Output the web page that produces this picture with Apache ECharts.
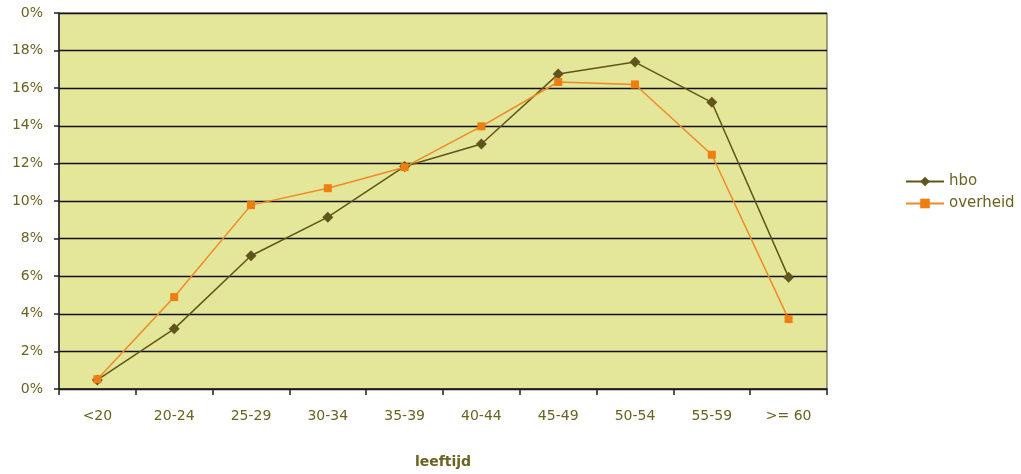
<!DOCTYPE html>
<html>
<head>
<meta charset="utf-8">
<script src="https://cdn.jsdelivr.net/npm/echarts@6/dist/echarts.min.js"></script>
<style>
html, body { margin: 0; padding: 0; background: #ffffff; }
#chart { width: 1021px; height: 474px; }
</style>
</head>
<body>
<div id="chart"></div>
<script>
// Leeftijdsopbouw (in % van het personeel) per leeftijdsklasse
const categories = ['<20', '20-24', '25-29', '30-34', '35-39', '40-44', '45-49', '50-54', '55-59', '>= 60'];
const hbo = [0.48, 3.2, 7.09, 9.14, 11.84, 13.03, 16.75, 17.39, 15.25, 5.94];
const overheid = [0.52, 4.89, 9.78, 10.68, 11.8, 13.97, 16.33, 16.2, 12.46, 3.72];
const yTickLabels = ['0%', '2%', '4%', '6%', '8%', '10%', '12%', '14%', '16%', '18%', '0%'];

const textColor = '#6b6321';
const font = '"DejaVu Sans", sans-serif';

const chart = echarts.init(document.getElementById('chart'), null, { renderer: 'canvas' });
chart.setOption({
  animation: false,
  backgroundColor: '#ffffff',
  grid: {
    left: 59, right: 194, top: 13, bottom: 85,
    show: true,
    backgroundColor: '#e4e69a',
    borderColor: '#4a4a3a',
    borderWidth: 1
  },
  legend: {
    orient: 'vertical',
    left: 900,
    top: 169,
    itemWidth: 38,
    itemHeight: 12,
    itemGap: 7,
    textStyle: { color: textColor, fontFamily: font, fontSize: 15 },
    data: ['hbo', 'overheid']
  },
  xAxis: {
    type: 'category',
    data: categories,
    boundaryGap: true,
    name: 'leeftijd',
    nameLocation: 'middle',
    nameGap: 66,
    nameTextStyle: { color: textColor, fontFamily: font, fontSize: 14, fontWeight: 'bold' },
    axisLine: { lineStyle: { color: '#222222', width: 1.5 } },
    axisTick: { show: true, length: 6, alignWithLabel: false, lineStyle: { color: '#222222', width: 1.5 } },
    axisLabel: { color: textColor, fontFamily: font, fontSize: 14, margin: 20 },
    splitLine: { show: false }
  },
  yAxis: {
    type: 'value',
    min: 0,
    max: 20,
    interval: 2,
    axisLine: { show: true, lineStyle: { color: '#222222', width: 1.5 } },
    axisTick: { show: true, length: 5, lineStyle: { color: '#222222', width: 1.5 } },
    axisLabel: {
      color: textColor, fontFamily: font, fontSize: 14, margin: 16,
      formatter: (v) => yTickLabels[Math.round(v / 2)]
    },
    splitLine: { show: true, lineStyle: { color: '#111111', width: 1.3 } }
  },
  series: [
    {
      name: 'hbo',
      type: 'line',
      data: hbo,
      symbol: 'diamond',
      symbolSize: 11,
      lineStyle: { color: '#5e561a', width: 1.5 },
      itemStyle: { color: '#5e561a' },
      z: 3
    },
    {
      name: 'overheid',
      type: 'line',
      data: overheid,
      symbol: 'rect',
      symbolSize: 8,
      lineStyle: { color: '#f08a25', width: 1.5 },
      itemStyle: { color: '#ee7d12' },
      z: 4
    }
  ]
});
</script>
</body>
</html>
